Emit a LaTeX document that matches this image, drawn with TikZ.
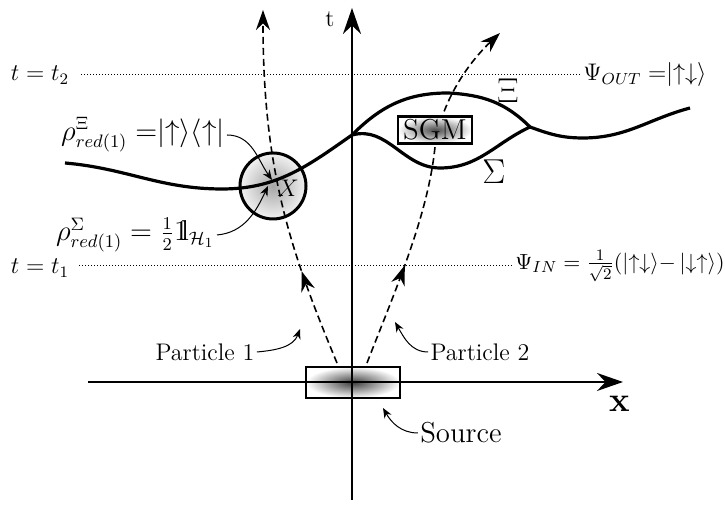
\documentclass[tikz,border=0pt]{standalone}
\usepackage{amsmath,amssymb}
\usetikzlibrary{positioning, arrows.meta, decorations.markings}
\newcommand{\unitop}{\mathrm{1}\mkern-4.5mu\mathrm{l}}

\begin{document}
\begin{tikzpicture}[x=0.5pt, y=0.5pt, >=Stealth,
    lbl/.style={font=\large, inner sep=1pt},
    rholbl/.style={font=\fontsize{13.5}{16}\selectfont, inner sep=1pt},
    axis/.style={line width=0.8pt, -{Stealth[length=13pt, width=9pt]}},
    world/.style={line width=1.6pt},
    slice/.style={line width=0.5pt, dash pattern=on 0.5pt off 1pt},
    track/.style={line width=0.8pt, dash pattern=on 3.5pt off 2pt,
      -{Stealth[length=10pt, width=7pt]}},
    pointer/.style={line width=0.5pt, -{Stealth[length=5pt, width=4pt]}},
    midarrow/.style={postaction={decorate}, decoration={markings,
      mark=at position #1 with {\arrow{Stealth[length=10pt, width=7pt]}}}}]
  \useasboundingbox (0,0) rectangle (725,506);

  % source and measurement region
  \node[draw, line width=1.2pt, minimum width=47pt, minimum height=15.5pt, inner sep=0pt,
    inner color=black!75, outer color=white] (src) at (353,123.5) {};
  \node[circle, draw, line width=1.5pt, minimum size=33pt, inner sep=0pt,
    inner color=gray!70, outer color=gray!10] (xreg) at (273,320) {};

  % axes
  \coordinate (tbot) at (352,6);
  \coordinate (ttop) at (352,498);
  \coordinate (xleft) at (88,124);
  \coordinate (xright) at (623,124);
  \draw[axis] (tbot) -- (ttop);
  \draw[axis] (xleft) -- (xright);
  \node[font=\large] (tname) at (330,487) {t};
  \node[font=\LARGE\bfseries] (xname) at (620,102) {x};

  % time slices
  \node[lbl] (t2) at (40,431) {$t=t_2$};
  \node[lbl, anchor=west] (psiout) at (581,431) {$\Psi_{OUT}\;{=}|{\uparrow\downarrow}\rangle$};
  \node[lbl] (t1) at (40,238) {$t=t_1$};
  \node[font=\fontsize{10.95}{13}\selectfont, inner sep=1pt, anchor=west] (psiin) at (513,240)
    {$\Psi_{IN}=\frac{1}{\sqrt{2}}(|{\uparrow\downarrow}\rangle{-}\,|{\downarrow\uparrow}\rangle)$};
  \draw[slice, shorten <=5pt] (t2) -- (psiout);
  \draw[slice, shorten <=4pt] (t1.east |- psiin.west) -- (psiin.west);

  % world line with the two SGM branches
  \coordinate (wa) at (65,343);
  \coordinate (wdip) at (222,317);
  \coordinate (split) at (352,371);
  \coordinate (xipeak) at (448,413);
  \coordinate (sigdip) at (440,338);
  \coordinate (merge) at (530,379);
  \coordinate (wmin) at (583,368);
  \coordinate (wb) at (690,398);
  \draw[world] (wa) to[out=-5, in=180] (wdip) to[out=0, in=215] (split)
    to[out=45, in=180] (xipeak) to[out=-3, in=135] (merge)
    to[out=-20, in=180] (wmin) to[out=0, in=195] (wb);
  \draw[world] (split) to[out=15, in=180] (sigdip) to[out=0, in=205] (merge);

  % particle tracks
  \coordinate (p1s) at (337,143);
  \coordinate (p1e) at (263,496);
  \coordinate (p2s) at (367,143);
  \coordinate (p2m) at (435,359);
  \coordinate (p2e) at (500,473);
  \draw[track, midarrow=0.27] (p1s) .. controls (290,256) and (263,336) .. (p1e);
  \draw[track, midarrow=0.29] (p2s) .. controls (395,215) and (428,290) .. (p2m)
    .. controls (440,400) and (465,440) .. (p2e);

  \node[draw, line width=1.2pt, font=\Large, inner sep=1.5pt, minimum width=37pt,
    minimum height=12pt, inner color=black!70, outer color=white] (sgm) at (435,376) {SGM};
  \node[lbl] (xlab) at (288,318) {$X$};
  \node[font=\LARGE] (xi) at (508,415) {$\Xi$};
  \node[font=\LARGE] (sig) at (494,334) {$\Sigma$};

  % reduced states
  \coordinate (xevt) at (272,326);
  \coordinate (xevtlow) at (268,320);
  \node[rholbl, anchor=east] (rhoxi) at (227,371)
    {$\rho^{\Xi}_{red(1)}\;{=}|{\uparrow}\rangle\langle{\uparrow}|$};
  \node[rholbl, anchor=east] (rhosig) at (217,271)
    {$\rho^{\Sigma}_{red(1)}=\frac{1}{2}\unitop_{\mathcal{H}_1}$};
  \draw[pointer] (rhoxi.east) to[out=0, in=125] (xevt);
  \draw[pointer] (rhosig.east) to[out=5, in=-115] (xevtlow);

  % particle and source labels
  \coordinate (p1tip) at (300,177);
  \coordinate (p2tip) at (395,184);
  \coordinate (srctip) at (383,98);
  \node[lbl] (pt1) at (205,154) {Particle 1};
  \node[lbl] (pt2) at (480,154) {Particle 2};
  \node[font=\Large, inner sep=1pt] (srclab) at (461,73) {Source};
  \draw[pointer] (pt1.east) to[out=5, in=-110] (p1tip);
  \draw[pointer] (pt2.west) to[out=180, in=-60] (p2tip);
  \draw[pointer] (srclab.west) to[out=180, in=-60] (srctip);
\end{tikzpicture}
\end{document}
